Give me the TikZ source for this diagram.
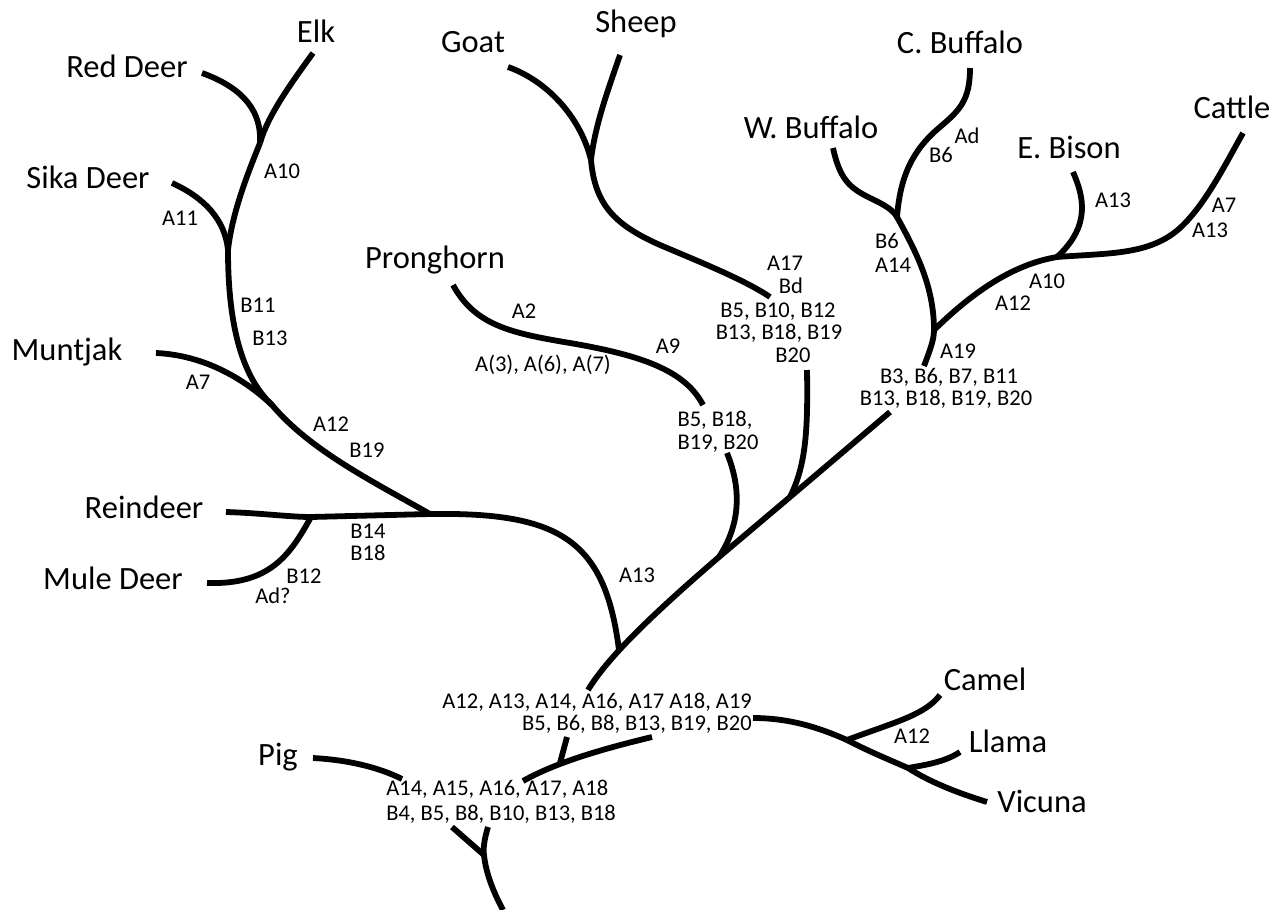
\documentclass[tikz,border=0pt]{standalone}
\usepackage{fontspec}
\setmainfont{Carlito}
\newcommand\spfont{\fontsize{18.5}{20}\selectfont}
\newcommand\lbfont{\fontsize{12.8}{13}\selectfont}
\begin{document}
\begin{tikzpicture}[x=0.02cm,y=-0.02cm,
  sp/.style={font=\spfont,inner sep=0pt,anchor=base},
  lb/.style={font=\lbfont,inner sep=0pt,anchor=base},
  br/.style={line width=3.3pt}]
\useasboundingbox[fill=white] (0,0) rectangle (1276,910);
% ---------- coordinates ----------
\coordinate (elk) at (313,53);
\coordinate (red) at (202,73);
\coordinate (j1) at (260,143);
\coordinate (sika) at (172,183);
\coordinate (j2) at (228,250);
\coordinate (munt) at (156,353);
\coordinate (j3) at (272,405);
\coordinate (j4) at (430,514);
\coordinate (rein) at (226,512);
\coordinate (j5) at (311,517);
\coordinate (mule) at (207,583);
\coordinate (j6) at (619,650);
\coordinate (d0) at (588,690);
\coordinate (j7) at (719,557);
\coordinate (j8) at (790,497);
\coordinate (d1) at (890,412);
\coordinate (pr) at (453,285);
\coordinate (p1) at (703,405);
\coordinate (p2) at (727,453);
\coordinate (b0) at (807,370);
\coordinate (goat) at (508,67);
\coordinate (sheep) at (620,55);
\coordinate (jg) at (591,160);
\coordinate (b1) at (770,297);
\coordinate (s0) at (924,366);
\coordinate (j9) at (934,330);
\coordinate (j10) at (897,217);
\coordinate (cbuf) at (970,68);
\coordinate (wbuf) at (833,148);
\coordinate (j11) at (1057,257);
\coordinate (bison) at (1073,172);
\coordinate (cattle) at (1243,133);
\coordinate (c0) at (753,718);
\coordinate (j12) at (847,740);
\coordinate (j13) at (908,768);
\coordinate (vic) at (987,802);
\coordinate (camel) at (940,695);
\coordinate (llama) at (960,752);
\coordinate (u0) at (567,737);
\coordinate (j14) at (560,763);
\coordinate (u1) at (652,737);
\coordinate (u2) at (523,781);
\coordinate (pig) at (313,758);
\coordinate (pg1) at (402,779);
\coordinate (t0) at (452,827);
\coordinate (j15) at (484,855);
\coordinate (t1) at (488,827);
\coordinate (t2) at (503,910);
% ---------- deer ----------
\draw[br] (elk) .. controls (290,85) and (268,115) .. (j1);
\draw[br] (red) .. controls (235,85) and (262,105) .. (j1);
\draw[br] (j1) .. controls (245,180) and (232,215) .. (j2);
\draw[br] (sika) .. controls (205,198) and (225,220) .. (j2);
\draw[br] (j2) .. controls (228,320) and (240,375) .. (j3);
\draw[br] (munt) .. controls (200,355) and (240,375) .. (j3);
\draw[br] (j3) .. controls (310,450) and (370,480) .. (j4);
\draw[br] (rein) .. controls (260,513) and (290,517) .. (j5) -- (j4);
\draw[br] (mule) .. controls (270,585) and (290,555) .. (j5);
\draw[br] (j4) .. controls (560,512) and (605,540) .. (j6);
% ---------- main diagonal ----------
\draw[br] (d0) .. controls (605,662) and (640,625) .. (j7) -- (j8) -- (d1);
% ---------- pronghorn ----------
\draw[br] (pr) .. controls (475,325) and (510,333) .. (570,343) .. controls (640,355) and (685,370) .. (p1);
\draw[br] (p2) .. controls (742,490) and (740,525) .. (j7);
% ---------- goat / sheep ----------
\draw[br] (b0) .. controls (808,430) and (806,465) .. (j8);
\draw[br] (goat) .. controls (545,80) and (580,115) .. (jg);
\draw[br] (sheep) .. controls (608,90) and (595,125) .. (jg);
\draw[br] (jg) .. controls (595,205) and (615,225) .. (660,245) .. controls (700,262) and (745,280) .. (b1);
% ---------- bovines ----------
\draw[br] (s0) .. controls (930,350) and (934,340) .. (j9) .. controls (934,285) and (915,250) .. (j10);
\draw[br] (cbuf) .. controls (970,100) and (960,110) .. (940,127) .. controls (910,152) and (900,180) .. (j10);
\draw[br] (wbuf) .. controls (840,180) and (850,188) .. (870,198) .. controls (885,205) and (893,210) .. (j10);
\draw[br] (j9) .. controls (970,295) and (1010,265) .. (j11);
\draw[br] (bison) .. controls (1083,195) and (1092,225) .. (j11);
\draw[br] (j11) .. controls (1110,253) and (1150,255) .. (1180,228) .. controls (1205,205) and (1225,165) .. (cattle);
% ---------- camelids ----------
\draw[br] (c0) .. controls (790,718) and (820,728) .. (j12) .. controls (870,752) and (890,760) .. (j13) .. controls (930,782) and (955,792) .. (vic);
\draw[br] (camel) .. controls (925,715) and (895,722) .. (j12);
\draw[br] (llama) .. controls (945,762) and (925,765) .. (j13);
% ---------- base ----------
\draw[br] (u0) -- (j14);
\draw[br] (u1) .. controls (615,746) and (560,760) .. (u2);
\draw[br] (pig) .. controls (350,760) and (380,768) .. (pg1);
\draw[br] (t0) -- (j15);
\draw[br] (t1) .. controls (484,840) and (483,850) .. (j15) .. controls (486,875) and (495,895) .. (t2);
% ---------- species ----------
\node[sp] (nElk) at (316,42) {Elk};
\node[sp] (nRed) at (127,77) {Red Deer};
\node[sp] (nSika) at (88,188) {Sika Deer};
\node[sp] (nMunt) at (67,360) {Muntjak};
\node[sp] (nRein) at (144,518) {Reindeer};
\node[sp] (nMule) at (113,589) {Mule Deer};
\node[sp] (nPron) at (435,268) {Pronghorn};
\node[sp] (nGoat) at (473,52) {Goat};
\node[sp] (nSheep) at (636,32) {Sheep};
\node[sp] (nCBuf) at (960,53) {C. Buffalo};
\node[sp] (nWBuf) at (811,138) {W. Buffalo};
\node[sp] (nBison) at (1069,158) {E. Bison};
\node[sp] (nCattle) at (1232,118) {Cattle};
\node[sp] (nCamel) at (985,690) {Camel};
\node[sp] (nLlama) at (1008,752) {Llama};
\node[sp] (nVic) at (1042,812) {Vicuna};
\node[sp] (nPig) at (278,765) {Pig};
% ---------- character labels ----------
\node[lb] (l1) at (282,178) {A10};
\node[lb] (l2) at (180,225) {A11};
\node[lb] (l3) at (258,312) {B11};
\node[lb] (l4) at (270,345) {B13};
\node[lb] (l5) at (198,389) {A7};
\node[lb] (l6) at (331,431) {A12};
\node[lb] (l7) at (367,457) {B19};
\node[lb] (l8) at (368,538) {B14};
\node[lb] (l9) at (368,560) {B18};
\node[lb] (l10) at (304,583) {B12};
\node[lb] (l11) at (273,603) {Ad?};
\node[lb] (l12) at (637,582) {A13};
\node[lb] (l13) at (524,318) {A2};
\node[lb] (l14) at (668,353) {A9};
\node[lb] (l15) at (543,371) {A(3), A(6), A(7)};
\node[lb] (l16) at (785,270) {A17};
\node[lb] (l17) at (791,293) {Bd};
\node[lb] (l18) at (778,317) {B5, B10, B12};
\node[lb] (l19) at (779,339) {B13, B18, B19};
\node[lb] (l20) at (793,362) {B20};
\node[lb] (l21) at (715,426) {B5, B18,};
\node[lb] (l22) at (718,449) {B19, B20};
\node[lb] (l23) at (887,248) {B6};
\node[lb] (l24) at (893,272) {A14};
\node[lb] (l25) at (941,162) {B6};
\node[lb] (l26) at (967,143) {Ad};
\node[lb] (l27) at (1113,207) {A13};
\node[lb] (l28) at (1224,212) {A7};
\node[lb] (l29) at (1210,237) {A13};
\node[lb] (l30) at (1047,288) {A10};
\node[lb] (l31) at (1013,310) {A12};
\node[lb] (l32) at (958,358) {A19};
\node[lb] (l33) at (949,383) {B3, B6, B7, B11};
\node[lb] (l34) at (946,405) {B13, B18, B19, B20};
\node[lb,anchor=base east] (l35) at (752,708) {A12, A13, A14, A16, A17 A18, A19};
\node[lb,anchor=base east] (l36) at (752,730) {B5, B6, B8, B13, B19, B20};
\node[lb,anchor=base west] (l37) at (386,795) {A14, A15, A16, A17, A18};
\node[lb,anchor=base west] (l38) at (386,820) {B4, B5, B8, B10, B13, B18};
\node[lb] (l39) at (912,743) {A12};
\end{tikzpicture}
\end{document}
